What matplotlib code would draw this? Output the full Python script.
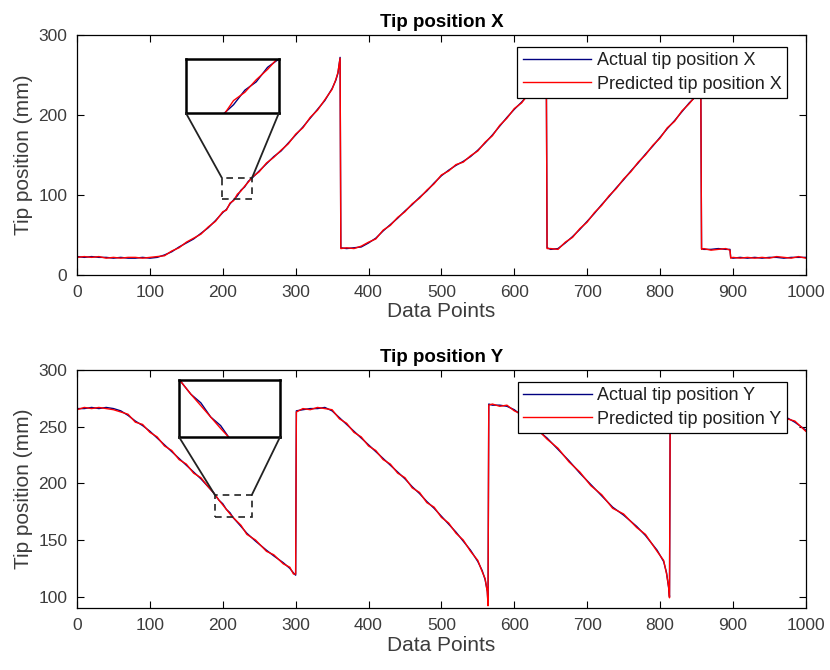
import matplotlib
matplotlib.use("Agg")
import matplotlib.pyplot as plt
from matplotlib.patches import Rectangle, ConnectionPatch

plt.rcParams['font.family'] = ['Liberation Sans', 'DejaVu Sans']

# tip position X (top panel)
idx_x = [0, 10, 20, 30, 40, 50, 60, 70, 80, 90, 100, 110, 120, 130, 140, 150, 160, 170, 180, 190,
         200, 205, 210, 215, 220, 225, 230, 235, 240, 250, 260, 270, 280, 290, 300, 310, 320, 330,
         340, 350, 355, 358, 361, 362, 370, 380, 390, 400, 410, 420, 430, 440, 450, 460, 470, 480,
         490, 500, 510, 520, 530, 540, 550, 560, 570, 580, 590, 600, 610, 620, 630, 640, 644, 645,
         650, 660, 670, 680, 690, 700, 710, 720, 730, 740, 750, 760, 770, 780, 790, 800, 810, 820,
         830, 840, 850, 856, 857, 860, 870, 880, 890, 896, 897, 900, 910, 920, 930, 940, 950, 960,
         970, 980, 990, 1000]
actual_x = [23, 22, 23, 22, 22, 21, 22, 21, 21, 22, 21, 22, 25, 29, 35, 40, 45, 52, 59, 68,
            78, 82, 89, 94, 99, 106, 110, 117, 121, 130, 139, 148, 155, 165, 175, 185, 196, 207,
            218, 233, 243, 252, 272, 34, 33, 34, 35, 40, 46, 55, 63, 71, 80, 88, 97, 105,
            115, 124, 131, 137, 142, 148, 156, 165, 175, 186, 197, 207, 216, 226, 236, 245, 250, 34,
            32, 33, 40, 48, 57, 67, 77, 88, 98, 109, 119, 130, 140, 151, 161, 172, 183, 193,
            204, 215, 224, 232, 33, 32, 32, 33, 32, 32, 22, 21, 22, 21, 22, 21, 22, 22,
            21, 22, 22, 22]
pred_x = [22, 23, 22, 23, 21, 22, 21, 22, 22, 21, 22, 23, 24, 30, 34, 41, 46, 51, 60, 67,
          79, 81, 90, 93, 101, 105, 111, 116, 122, 129, 140, 147, 156, 164, 176, 184, 197, 206,
          219, 232, 244, 253, 271, 33, 34, 33, 36, 41, 45, 56, 62, 72, 79, 89, 96, 106,
          114, 125, 130, 138, 141, 149, 155, 166, 174, 187, 196, 208, 215, 227, 235, 246, 249, 33,
          33, 32, 41, 47, 58, 66, 78, 87, 99, 108, 120, 129, 141, 150, 162, 171, 184, 192,
          205, 214, 225, 231, 32, 33, 31, 32, 33, 31, 21, 22, 21, 22, 21, 22, 21, 23,
          22, 21, 23, 21]

# tip position Y (bottom panel)
idx_y = [0, 10, 20, 30, 40, 50, 60, 70, 80, 90, 100, 110, 120, 130, 140, 150, 160, 170, 180, 187,
         195, 200, 205, 210, 214, 225, 233, 245, 260, 270, 283, 292, 297, 300, 301, 310, 320, 330,
         340, 350, 360, 370, 380, 390, 400, 410, 420, 430, 440, 450, 460, 470, 480, 490, 500, 510,
         520, 530, 540, 550, 556, 560, 563, 564, 565, 570, 580, 590, 600, 610, 620, 630, 645, 660,
         675, 690, 705, 720, 735, 750, 768, 780, 796, 805, 809, 812, 813, 814, 820, 830, 840, 850,
         860, 870, 880, 890, 900, 910, 920, 930, 940, 950, 960, 974, 985, 1000]
actual_y = [266, 266, 267, 266, 267, 266, 264, 260, 255, 251, 246, 240, 234, 228, 222, 216, 210, 204, 197, 192,
            185, 182, 177, 174, 170, 162, 156, 149, 141, 136, 130, 125, 121, 119, 264, 265, 266, 266,
            267, 264, 258, 252, 246, 240, 234, 228, 222, 216, 210, 204, 197, 191, 184, 178, 171, 164,
            157, 149, 141, 131, 123, 115, 105, 93, 270, 269, 269, 268, 265, 260, 254, 248, 240, 230,
            220, 209, 199, 189, 179, 172, 162, 154, 141, 131, 121, 107, 100, 268, 268, 268, 267, 267,
            266, 266, 265, 265, 264, 264, 263, 263, 262, 261, 260, 258, 254, 247]
pred_y = [265, 267, 266, 267, 266, 265, 263, 261, 254, 252, 245, 241, 233, 229, 221, 217, 209, 205, 197, 192,
          185, 181, 177, 173, 170, 163, 155, 150, 140, 137, 129, 126, 120, 120, 263, 266, 265, 267,
          266, 265, 257, 253, 245, 241, 233, 229, 221, 217, 209, 205, 196, 192, 183, 179, 170, 165,
          156, 150, 140, 132, 122, 116, 104, 92, 269, 270, 268, 269, 264, 261, 253, 249, 239, 231,
          219, 210, 198, 190, 178, 173, 161, 155, 140, 132, 120, 108, 99, 267, 269, 267, 268, 266,
          267, 265, 266, 264, 265, 263, 264, 262, 263, 260, 261, 257, 255, 246]

xticks = list(range(0, 1001, 100))
yticks_x = [0, 100, 200, 300]
yticks_y = [100, 150, 200, 250, 300]

NAVY = '#000080'
RED = '#ff0000'
GRAY = '#3c3c3c'


def style_axes(ax):
    for s in ax.spines.values():
        s.set_linewidth(0.9)
        s.set_color('black')
    ax.tick_params(direction='in', top=True, right=True, length=5, width=0.8,
                   labelsize=12.5, labelcolor=GRAY, pad=7)


def draw_panel(ax, idx, act, pred, ylim, yticks, name, box, inset_rect):
    ax.plot(idx, act, color=NAVY, lw=1.0, label=f'Actual tip position {name}')
    ax.plot(idx, pred, color=RED, lw=1.0, label=f'Predicted tip position {name}')
    ax.set_xlim(0, 1000)
    ax.set_ylim(*ylim)
    ax.set_xticks(xticks)
    ax.set_yticks(yticks)
    style_axes(ax)
    ax.set_xlabel('Data Points', fontsize=15, color=GRAY, labelpad=2)
    ax.set_ylabel('Tip position (mm)', fontsize=15, color=GRAY, labelpad=4)
    ax.set_title(f'Tip position {name}', fontsize=13.5, fontweight='bold', pad=6)
    leg = ax.legend(loc='upper right', bbox_to_anchor=(0.974, 0.95), borderaxespad=0,
                    fancybox=False, framealpha=1, edgecolor='black', fontsize=13,
                    handlelength=3.8, handletextpad=0.3, labelspacing=0.35, borderpad=0.3)
    leg.get_frame().set_linewidth(0.9)
    for t in leg.get_texts():
        t.set_color('#202020')

    # zoom box + inset
    x0, x1, y0, y1 = box
    ax.add_patch(Rectangle((x0, y0), x1 - x0, y1 - y0, fill=False, ls=(0, (4, 3)),
                           lw=1.2, edgecolor='#222222', zorder=5))
    ins = ax.figure.add_axes(inset_rect)
    ins.plot(idx, act, color=NAVY, lw=1.0)
    ins.plot(idx, pred, color=RED, lw=1.0)
    ins.set_xlim(x0, x1)
    ins.set_ylim(y0, y1)
    ins.set_xticks([])
    ins.set_yticks([])
    for s in ins.spines.values():
        s.set_linewidth(1.8)
    for xa, xb in [(0, x0), (1, x1)]:
        con = ConnectionPatch(xyA=(xa, 0), coordsA=ins.transAxes, xyB=(xb, y1), coordsB=ax.transData,
                              color='#222222', lw=1.3)
        ax.figure.add_artist(con)


fig = plt.figure(figsize=(8.3, 6.7), dpi=100)
ax1 = fig.add_axes([0.0928, 0.5896, 0.878, 0.3582])
ax2 = fig.add_axes([0.0928, 0.0925, 0.878, 0.3552])

draw_panel(ax1, idx_x, actual_x, pred_x, (0, 300), yticks_x, 'X',
           (199, 240, 95, 121), [0.224, 0.8313, 0.112, 0.0806])
draw_panel(ax2, idx_y, actual_y, pred_y, (90, 300), yticks_y, 'Y',
           (189, 240, 170, 190), [0.2157, 0.3478, 0.1217, 0.085])

fig.savefig('out.png', dpi=100)
